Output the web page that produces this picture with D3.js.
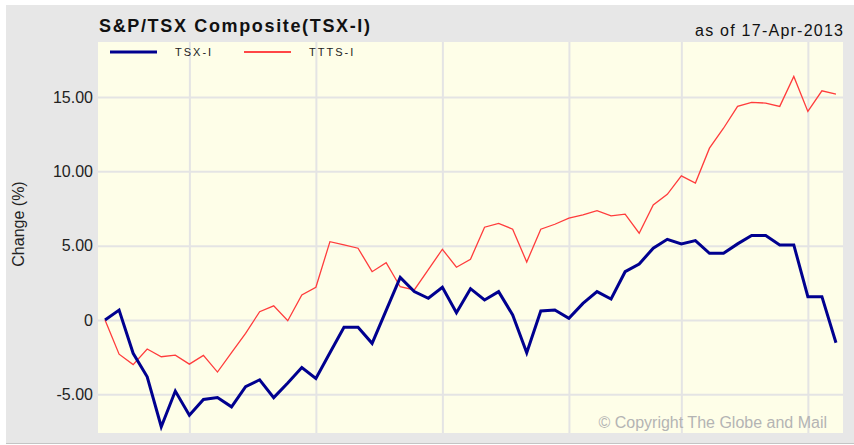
<!DOCTYPE html>
<html>
<head>
<meta charset="utf-8">
<script src="https://cdn.jsdelivr.net/npm/d3@7"></script>
<style>
  body { margin: 0; background: #fff; }
  svg { display: block; font-family: "Liberation Sans", Arial, sans-serif; }
</style>
</head>
<body>
<svg id="chart"></svg>
<script>
// weekly % change, 53 points
const tsx = [0, 0.67, -2.24, -3.82, -7.18, -4.78, -6.4, -5.34, -5.21, -5.84,
    -4.49, -4.02, -5.22, -4.24, -3.2, -3.93, -2.2, -0.49, -0.49, -1.57,
    0.65, 2.87, 1.91, 1.46, 2.2, 0.49, 2.11, 1.35, 1.91, 0.34,
    -2.2, 0.61, 0.67, 0.11, 1.12, 1.91, 1.41, 3.25, 3.77, 4.83,
    5.43, 5.12, 5.34, 4.49, 4.49, 5.12, 5.68, 5.68, 5.05, 5.05,
    1.57, 1.57, -1.53];
const ttts = [0, -2.3, -3.0, -1.95, -2.47, -2.36, -2.97, -2.38, -3.5, -2.2,
    -0.9, 0.56, 0.95, -0.05, 1.68, 2.2, 5.27, 5.05, 4.83, 3.25,
    3.86, 2.24, 2.02, 3.39, 4.76, 3.55, 4.09, 6.24, 6.5, 6.11,
    3.9, 6.11, 6.44, 6.85, 7.07, 7.36, 7.0, 7.12, 5.84, 7.74,
    8.45, 9.7, 9.21, 11.56, 12.9, 14.37, 14.64, 14.59, 14.37, 16.38,
    14.03, 15.42, 15.2];
const seriesNames = ['TSX-I', 'TTTS-I'];
const yTicks = [-5, 0, 5, 10, 15];
const xGrid = [6, 15, 24, 33, 41, 50];   // month boundaries (week index)

const width = 854, height = 445;
const plot = {left: 98, top: 42, right: 843, bottom: 433};

const svg = d3.select('#chart')
    .attr('width', width)
    .attr('height', height);

// panel background
svg.append('rect')
    .attr('x', 6).attr('y', 5)
    .attr('width', width - 6).attr('height', 438)
    .attr('fill', '#e7e7e7');
svg.append('line')
    .attr('x1', 6).attr('x2', width)
    .attr('y1', 443.5).attr('y2', 443.5)
    .attr('stroke', '#c4c4c4').attr('stroke-width', 1);

svg.append('rect')
    .attr('x', plot.left).attr('y', plot.top)
    .attr('width', plot.right - plot.left).attr('height', plot.bottom - plot.top)
    .attr('fill', '#fefee8');

const x = d3.scaleLinear().domain([-0.5, tsx.length - 0.5]).range([plot.left, plot.right]);
const y = d3.scaleLinear().domain([-7.6, 18.7]).range([plot.bottom, plot.top]);

// grid
const ygrid = svg.append('g')
    .attr('transform', `translate(${plot.left},0)`)
    .call(d3.axisLeft(y).tickValues(yTicks).tickSize(-(plot.right - plot.left))
        .tickPadding(5)
        .tickFormat(d => d === 0 ? '0' : d.toFixed(2)));
ygrid.select('.domain').remove();
ygrid.selectAll('line').attr('stroke', '#e4e4e4').attr('stroke-width', 2);
ygrid.selectAll('text')
    .attr('font-size', 16)
    .attr('fill', '#222')
    .attr('font-family', '"Liberation Sans", Arial, sans-serif');

const xgrid = svg.append('g')
    .attr('transform', `translate(0,${plot.bottom})`)
    .call(d3.axisBottom(x).tickValues(xGrid).tickSize(-(plot.bottom - plot.top)).tickFormat(''));
xgrid.select('.domain').remove();
xgrid.selectAll('line').attr('stroke', '#e4e4e4').attr('stroke-width', 2);

// lines
const line = d3.line().x((d, i) => x(i)).y(d => y(d));

svg.append('path')
    .datum(ttts)
    .attr('d', line)
    .attr('fill', 'none')
    .attr('stroke', '#ff3c3c')
    .attr('stroke-width', 1.3);

svg.append('path')
    .datum(tsx)
    .attr('d', line)
    .attr('fill', 'none')
    .attr('stroke', '#00008f')
    .attr('stroke-width', 3)
    .attr('stroke-linejoin', 'miter');

// legend
const legend = [
    {name: seriesNames[0], color: '#00008f', w: 3, x0: 110},
    {name: seriesNames[1], color: '#ff4646', w: 2, x0: 244}
];
const lg = svg.append('g');
legend.forEach(d => {
    lg.append('line')
        .attr('x1', d.x0).attr('x2', d.x0 + 47)
        .attr('y1', 52).attr('y2', 52)
        .attr('stroke', d.color).attr('stroke-width', d.w);
    lg.append('text')
        .attr('x', d.x0 + 65).attr('y', 56)
        .attr('font-size', 11)
        .attr('letter-spacing', 2)
        .attr('fill', '#222')
        .text(d.name);
});

// titles
svg.append('text')
    .attr('x', 99).attr('y', 32)
    .attr('font-size', 18)
    .attr('font-weight', 'bold')
    .attr('fill', '#111')
    .attr('textLength', 271)
    .attr('lengthAdjust', 'spacing')
    .text('S&P/TSX Composite(TSX-I)');

svg.append('text')
    .attr('x', 695).attr('y', 36)
    .attr('font-size', 16)
    .attr('fill', '#111')
    .attr('textLength', 148)
    .attr('lengthAdjust', 'spacing')
    .text('as of 17-Apr-2013');

svg.append('text')
    .attr('transform', 'translate(24,224) rotate(-90)')
    .attr('text-anchor', 'middle')
    .attr('font-size', 16)
    .attr('fill', '#222')
    .text('Change (%)');

svg.append('text')
    .attr('x', 827).attr('y', 428)
    .attr('text-anchor', 'end')
    .attr('font-size', 16)
    .attr('fill', '#b4b4b4')
    .text('\u00a9 Copyright The Globe and Mail');
</script>
</body>
</html>
